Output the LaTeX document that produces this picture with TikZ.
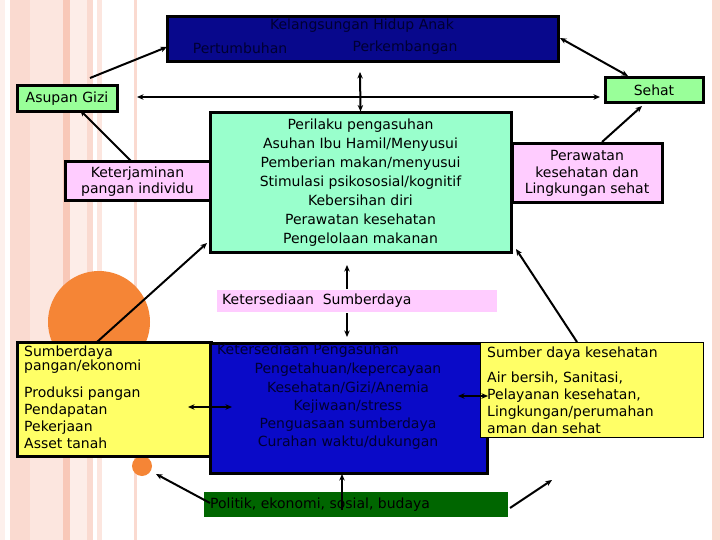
\documentclass[tikz,border=0pt]{standalone}
\usepackage{fontspec}
\setmainfont{DejaVu Sans}
\usetikzlibrary{arrows.meta}
\definecolor{topblue}{RGB}{8,8,140}
\definecolor{midblue}{RGB}{10,10,200}
\definecolor{darktxt}{RGB}{0,0,50}
\definecolor{lgreen}{RGB}{153,255,153}
\definecolor{aqua}{RGB}{153,255,204}
\definecolor{lpink}{RGB}{255,204,255}
\definecolor{lyellow}{RGB}{255,255,102}
\definecolor{dgreen}{RGB}{0,102,0}
\definecolor{orng}{RGB}{245,133,54}
\definecolor{st1}{RGB}{253,240,236}
\definecolor{st2}{RGB}{250,218,208}
\definecolor{st3}{RGB}{252,230,223}
\definecolor{st4}{RGB}{248,200,184}
\definecolor{st5}{RGB}{253,237,232}
\tikzset{
  box/.style={draw=black, line width=3pt, inner sep=0pt, anchor=center, align=center},
  band/.style={inner sep=0pt, anchor=center},
  lbl/.style={inner sep=0pt, font=\fontsize{14}{17}\selectfont},
  conn/.style={line width=2pt, -{Stealth[length=6.5pt,width=5.5pt]}},
  dconn/.style={line width=2pt, {Stealth[length=6.5pt,width=5.5pt]}-{Stealth[length=6.5pt,width=5.5pt]}}
}
\begin{document}
\begin{tikzpicture}[x=1pt,y=-1pt]
\useasboundingbox (0,0) rectangle (720,540);
\fill[white] (0,0) rectangle (720,540);
\fill[st1] (0,0) rectangle (5,540);
\fill[st2] (10,0) rectangle (30,540);
\fill[st3] (30,0) rectangle (63,540);
\fill[st4] (63,0) rectangle (70,540);
\fill[st5] (70,0) rectangle (87,540);
\fill[st2] (87,0) rectangle (93,540);
\fill[st3] (97,0) rectangle (102,540);
\fill[st2] (134,0) rectangle (137,540);
\fill[st2] (712,0) rectangle (720,540);
\fill[orng] (99,322) circle (51);
\fill[orng] (142,466) circle (10);

\node[box, fill=topblue, minimum width=391pt, minimum height=45pt] (top) at (362.5,39.5) {};
\node[lbl, text=darktxt] (topt) at (362,26) {Kelangsungan Hidup Anak};
\node[lbl, text=darktxt] (topa) at (240,48) {Pertumbuhan};
\node[lbl, text=darktxt] (topb) at (405,48) {Perkembangan};

\node[box, fill=lgreen, minimum width=100pt, minimum height=26pt, font=\fontsize{14}{17}\selectfont] (ag) at (67,99) {Asupan Gizi};
\node[box, fill=lgreen, minimum width=98pt, minimum height=25pt, font=\fontsize{14}{17}\selectfont] (sehat) at (654,90.5) {Sehat};
\node[box, fill=lpink, minimum width=145pt, minimum height=39pt, font=\fontsize{14}{16}\selectfont] (ket) at (137.5,181.5) {Keterjaminan\\pangan individu};
\node[box, fill=aqua, minimum width=301pt, minimum height=139pt, font=\fontsize{14}{19}\selectfont] (cen) at (360.5,182.5) {Perilaku pengasuhan\\Asuhan Ibu Hamil/Menyusui\\Pemberian makan/menyusui\\Stimulasi psikososial/kognitif\\Kebersihan diri\\Perawatan kesehatan\\Pengelolaan makanan};
\node[box, fill=lpink, minimum width=150pt, minimum height=59pt, font=\fontsize{14}{16.5}\selectfont] (per) at (587,173.5) {Perawatan\\kesehatan dan\\Lingkungan sehat};

\node[band, fill=lpink, minimum width=280pt, minimum height=22pt] (ks) at (357,301) {};
\node[lbl, anchor=west] (kst) at (222,301) {Ketersediaan\ \ Sumberdaya};

\node[box, fill=lyellow, minimum width=194pt, minimum height=114pt] (ly) at (114,399) {};
\node[lbl, anchor=north west, align=left] (lyt) at (24,346) {Sumberdaya\\[-3pt]pangan/ekonomi\\[10pt]Produksi pangan\\Pendapatan\\Pekerjaan\\Asset tanah};

\node[box, fill=midblue, minimum width=277pt, minimum height=130pt] (blue) at (348.5,408) {};
\node[lbl, anchor=west, text=darktxt] (bt) at (217,351) {Ketersediaan Pengasuhan};
\node[lbl, text=darktxt, align=center, font=\fontsize{14}{18.25}\selectfont] (bl) at (348,406.5) {Pengetahuan/kepercayaan\\Kesehatan/Gizi/Anemia\\Kejiwaan/stress\\Penguasaan sumberdaya\\Curahan waktu/dukungan};

\node[draw=black, line width=1pt, fill=lyellow, inner sep=0pt, minimum width=223pt, minimum height=95pt] (ry) at (591.5,389.5) {};
\node[lbl, anchor=west] (ryt) at (487,354) {Sumber daya kesehatan};
\node[lbl, anchor=north west, align=left] (ryb) at (487,372) {Air bersih, Sanitasi,\\Pelayanan kesehatan,\\Lingkungan/perumahan\\aman dan sehat};

\node[band, fill=dgreen, minimum width=304pt, minimum height=25pt] (pol) at (356,504.5) {};
\node[lbl, anchor=west] (polt) at (210,505) {Politik, ekonomi, sosial, budaya};

\coordinate (a1) at (90,78);
\coordinate (a2) at (167,47);
\coordinate (h1) at (137,97);
\coordinate (h2) at (600,97);
\coordinate (v1) at (360,72);
\coordinate (s1) at (560,38);
\coordinate (s2) at (628,76);
\coordinate (p1) at (602,142);
\coordinate (p2) at (642,106);
\coordinate (k1) at (132,162);
\coordinate (k2) at (80,110);
\coordinate (y1) at (97,342);
\coordinate (y2) at (207,243);
\coordinate (r1) at (577,342);
\coordinate (r2) at (516,249);
\coordinate (u1) at (347,289);
\coordinate (u2) at (347,265);
\coordinate (d1) at (347,313);
\coordinate (d2) at (347,337);
\coordinate (lb1) at (188,407);
\coordinate (lb2) at (232,407);
\coordinate (rb1) at (458,396);
\coordinate (rb2) at (488,396);
\coordinate (g1) at (342,510);
\coordinate (g2) at (342,474);
\coordinate (c1) at (210,503);
\coordinate (c2) at (156,474);
\coordinate (e1) at (510,508);
\coordinate (e2) at (552,480);

\draw[conn] (a1) -- (a2);
\draw[dconn] (h1) -- (h2);
\draw[dconn] (v1) -- (cen.north);
\draw[dconn] (s1) -- (s2);
\draw[conn] (p1) -- (p2);
\draw[conn] (k1) -- (k2);
\draw[conn] (y1) -- (y2);
\draw[conn] (r1) -- (r2);
\draw[conn] (u1) -- (u2);
\draw[conn] (d1) -- (d2);
\draw[dconn] (lb1) -- (lb2);
\draw[dconn] (rb1) -- (rb2);
\draw[conn] (g1) -- (g2);
\draw[conn] (c1) -- (c2);
\draw[conn] (e1) -- (e2);
\end{tikzpicture}
\end{document}
